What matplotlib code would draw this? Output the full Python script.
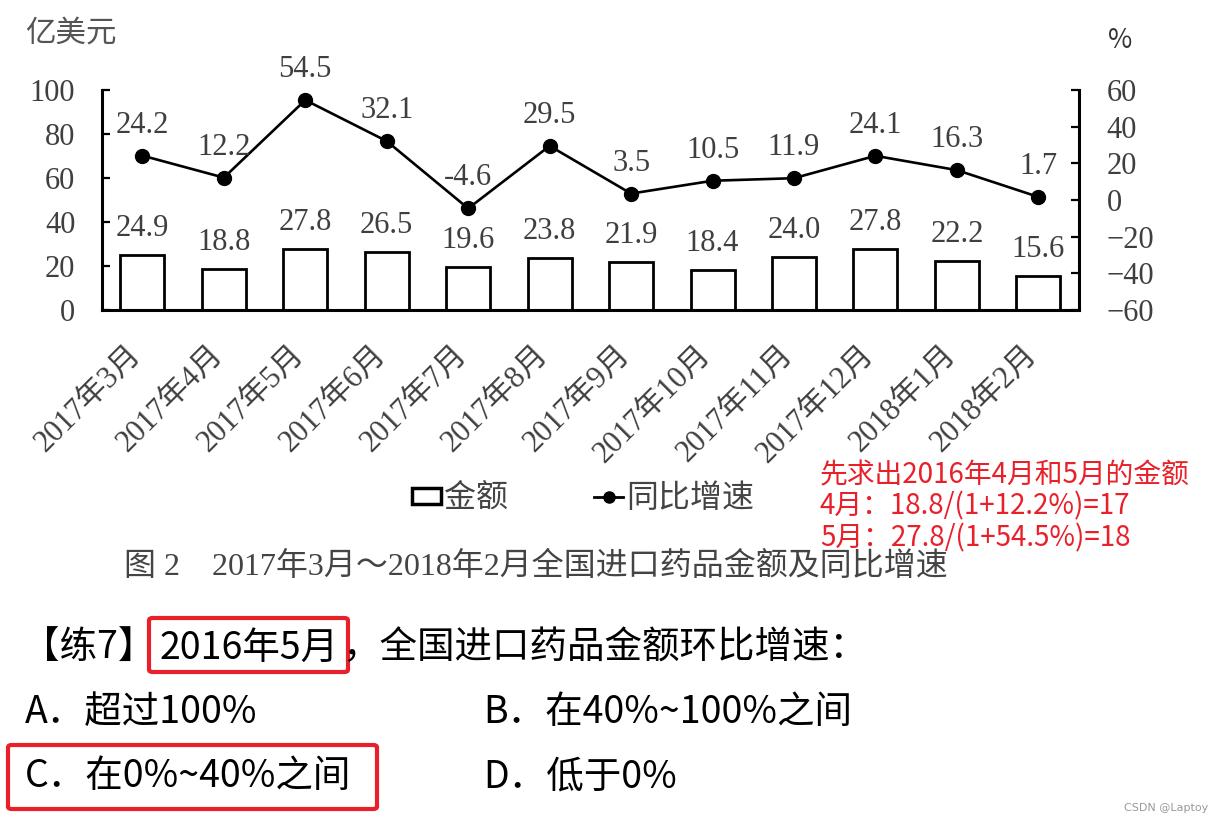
import matplotlib
matplotlib.use("Agg")
import matplotlib.pyplot as plt
from matplotlib.patches import Patch, FancyBboxPatch
from matplotlib.lines import Line2D
from matplotlib.transforms import ScaledTranslation

plt.rcParams['font.family'] = ['Liberation Serif', 'Noto Sans CJK SC', 'DejaVu Sans']

# data
months = ["2017年3月", "2017年4月", "2017年5月", "2017年6月", "2017年7月", "2017年8月",
          "2017年9月", "2017年10月", "2017年11月", "2017年12月", "2018年1月", "2018年2月"]
amount = [24.9, 18.8, 27.8, 26.5, 19.6, 23.8, 21.9, 18.4, 24.0, 27.8, 22.2, 15.6]
growth = [24.2, 12.2, 54.5, 32.1, -4.6, 29.5, 3.5, 10.5, 11.9, 24.1, 16.3, 1.7]
left_ticks = [0, 20, 40, 60, 80, 100]
right_ticks = [-60, -40, -20, 0, 20, 40, 60]

W, H = 1223, 825
fig = plt.figure(figsize=(W / 100, H / 100), dpi=100)


def fx(px):
    return px / W


def fy(py):
    return 1 - py / H


gray = '#3f3f3f'
red = '#e8202a'
cjk = ['Noto Sans CJK SC', 'DejaVu Sans']

ax = fig.add_axes([fx(101.7), fy(310), fx(1079) - fx(101.7), fy(90) - fy(310)])
x = range(len(months))
bars = ax.bar(x, amount, width=0.54, facecolor='white', edgecolor='black', linewidth=2.0, zorder=2)
ax.set_xlim(-0.5, len(months) - 0.5)
ax.set_ylim(0, 100)
ax.set_yticks(left_ticks)
ax.tick_params(axis='y', direction='in', length=6, width=1.6, pad=19, labelsize=22, labelcolor=gray)
ax.tick_params(axis='x', length=0, pad=29, labelsize=22, labelcolor=gray)
ax.set_xticks(list(x))
ax.set_xticklabels(months, rotation=45, ha='right', va='center', rotation_mode='anchor')
for lbl in ax.get_xticklabels():
    lbl.set_transform(lbl.get_transform() + ScaledTranslation(-4 / 72, 0, fig.dpi_scale_trans))
for s in ['left', 'bottom']:
    ax.spines[s].set_linewidth(2.2)
ax.spines['top'].set_visible(False)
ax.spines['right'].set_visible(False)

for b, v in zip(bars, amount):
    ax.annotate(f"{v:.1f}", (b.get_x() + b.get_width() / 2, v), xytext=(0, 19),
                textcoords='offset points', ha='center', va='center', fontsize=22, color=gray)

ax2 = ax.twinx()
ax2.plot(x, growth, color='black', lw=1.9, marker='o', markersize=10, zorder=3)
ax2.set_ylim(-60, 60)
ax2.set_yticks(right_ticks)
ax2.tick_params(axis='y', direction='in', length=6, width=1.6, pad=20, labelsize=22, labelcolor=gray)
ax2.spines['right'].set_linewidth(2.2)
for s in ['left', 'top', 'bottom']:
    ax2.spines[s].set_visible(False)
for i, v in enumerate(growth):
    ax2.annotate(f"{v:.1f}", (i, v), xytext=(0, 22), textcoords='offset points',
                 ha='center', va='center', fontsize=22, color=gray)

fig.text(fx(25), fy(33), "亿美元", family=cjk, fontsize=22, color='#555555', ha='left', va='center')
fig.text(fx(1120), fy(40), "%", family=cjk, fontsize=19, color='#333333', ha='center', va='center')

handles = [Patch(facecolor='white', edgecolor='black', linewidth=2.5),
           Line2D([], [], color='black', lw=2, marker='o', markersize=8)]
fig.legend(handles, ["金额", "同比增速"], loc='center', bbox_to_anchor=(fx(583), fy(498)),
           ncol=2, frameon=False, prop={'family': cjk, 'size': 23}, labelcolor='#444444',
           handlelength=0.9, handleheight=0.4, handletextpad=0.1, columnspacing=2.7)

fig.text(fx(124), fy(567), "图 2    2017年3月～2018年2月全国进口药品金额及同比增速",
         fontsize=23, color='#444444', ha='left', va='center')

notes = ["先求出2016年4月和5月的金额", "4月：18.8/(1+12.2%)=17", "5月：27.8/(1+54.5%)=18"]
for note, yy in zip(notes, [475, 506, 538]):
    fig.text(fx(820), fy(yy), note, family=cjk, fontsize=20, color=red, ha='left', va='center')

fig.text(fx(155), fy(648), "【练7】", family=cjk, fontsize=27, color='black', ha='right', va='center')
fig.text(fx(160), fy(648), "2016年5月", family=cjk, fontsize=27, color='black', ha='left', va='center')
fig.text(fx(343), fy(648), "，全国进口药品金额环比增速：", family=cjk, fontsize=27, color='black',
         ha='left', va='center')

options = [("A．超过100%", 25, 713), ("B．在40%~100%之间", 483, 713),
           ("C．在0%~40%之间", 25, 777), ("D．低于0%", 483, 777)]
for txt, ox, oy in options:
    fig.text(fx(ox), fy(oy), txt, family=cjk, fontsize=27, color='black', ha='left', va='center')

for (x0, y0, x1, y1) in [(149, 618, 348, 672), (8, 745, 377, 809)]:
    fig.patches.append(FancyBboxPatch((fx(x0), fy(y1)), fx(x1) - fx(x0), fy(y0) - fy(y1),
                                      boxstyle='round,pad=0,rounding_size=0.003',
                                      transform=fig.transFigure, fill=False,
                                      edgecolor=red, linewidth=3))

fig.text(fx(1208), fy(808), "CSDN @Laptoy", fontsize=8, color='#999999', ha='right', va='center',
         family=['DejaVu Sans'])

fig.savefig("out.png", dpi=100, facecolor='white')
